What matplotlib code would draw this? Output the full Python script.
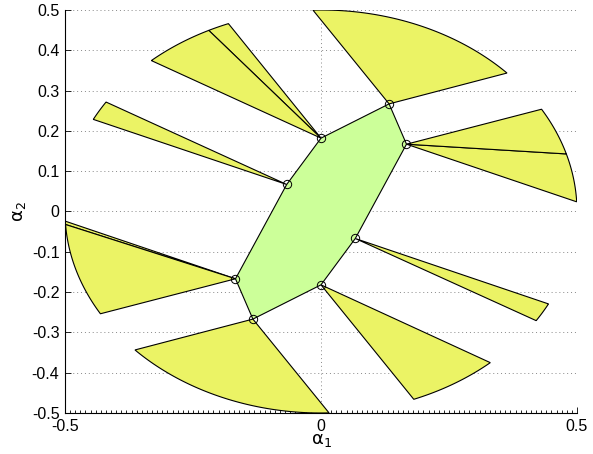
import numpy as np
import matplotlib.pyplot as plt
from matplotlib.patches import Polygon
from matplotlib.ticker import MultipleLocator

plt.rcParams['font.family'] = ['Liberation Sans', 'DejaVu Sans']

# octagon vertices (alpha_1, alpha_2)
vert_x = [0.0, 0.133, 0.167, 0.067, 0.0, -0.133, -0.167, -0.067]
vert_y = [0.182, 0.267, 0.167, -0.067, -0.182, -0.267, -0.167, 0.067]

# ray directions (deg, angle on the circle r=0.5) of each fan, per vertex
fan_angles = [
    [111.2, 116.0, 131.5],
    [43.4, 91.8],
    [2.75, 16.6, 30.5],
    [-32.8, -27.3],
    [-68.75, -48.6],
    [223.4, 271.8],
    [182.75, 183.7, 210.5],
    [147.1, 152.8],
]
radius = 0.5

green = '#ccff99'
yellow = '#ebf365'

fig = plt.figure(figsize=(5.93, 4.54), dpi=100)
ax = fig.add_axes([0.1096, 0.0903, 0.8634, 0.8877])

# fans: consecutive sectors from each vertex out to the circle
for vx, vy, angs in zip(vert_x, vert_y, fan_angles):
    for a1, a2 in zip(angs[:-1], angs[1:]):
        t = np.radians(np.linspace(a1, a2, 60))
        px = np.concatenate([[vx], radius * np.cos(t)])
        py = np.concatenate([[vy], radius * np.sin(t)])
        ax.add_patch(Polygon(np.column_stack([px, py]), closed=True,
                             facecolor=yellow, edgecolor='black', lw=0.8, zorder=2))

ax.add_patch(Polygon(np.column_stack([vert_x, vert_y]), closed=True,
                     facecolor=green, edgecolor='black', lw=0.8, zorder=3))
ax.plot(vert_x, vert_y, 'o', ls='none', mfc='none', mec='black', ms=6, mew=0.7, zorder=4)

ax.set_xlim(-0.5, 0.5)
ax.set_ylim(-0.5, 0.5)
ax.set_xticks([-0.5, 0, 0.5])
ax.set_xticklabels(['-0.5', '0', '0.5'])
yt = np.round(np.arange(-0.5, 0.51, 0.1), 1)
ax.set_yticks(yt)
ax.set_yticklabels(['0' if v == 0 else f'{v:g}' for v in yt])
ax.xaxis.set_minor_locator(MultipleLocator(0.01))

ax.grid(True, ls=(0, (1, 3)), color='#888888', lw=0.7)
ax.set_axisbelow(True)
for s in ['top', 'right']:
    ax.spines[s].set_visible(False)
ax.tick_params(which='both', direction='in', labelsize=11.5, width=0.6)
ax.tick_params(which='major', length=4, pad=4)
ax.tick_params(which='minor', length=2)

ax.set_xlabel(r'$\mathrm{\alpha}_1$', fontsize=13, labelpad=-1)
ax.set_ylabel(r'$\mathrm{\alpha}_2$', fontsize=13, labelpad=3)

fig.savefig('out.png', dpi=100)
